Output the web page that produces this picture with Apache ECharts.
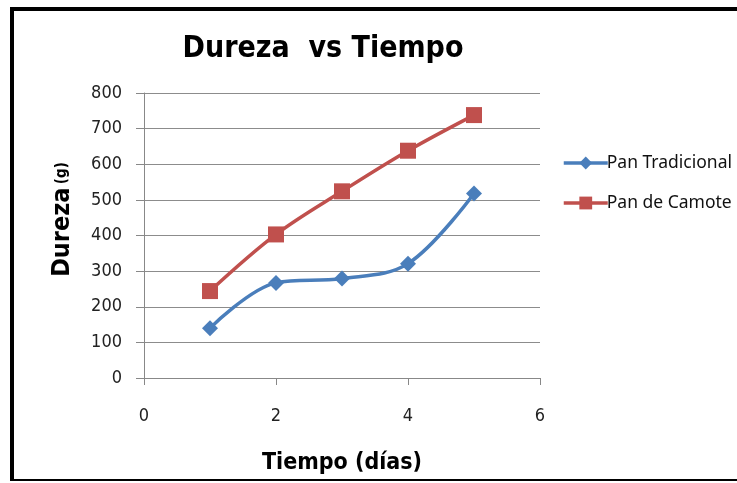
<!DOCTYPE html>
<html>
<head>
<meta charset="utf-8">
<script src="https://cdn.jsdelivr.net/npm/echarts@6/dist/echarts.min.js"></script>
<style>
  html, body { margin: 0; padding: 0; background: #fff; }
  #chart { width: 737px; height: 483px; }
</style>
</head>
<body>
<div id="chart"></div>
<script>
var dias = [1, 2, 3, 4, 5];
var panTradicional = [140, 267, 279, 321, 518];
var panCamote = [244, 403, 524, 638, 738];
var xTicks = [0, 2, 4, 6];
var yTicks = [0, 100, 200, 300, 400, 500, 600, 700, 800];

var narrow = "'DejaVu Sans Condensed', 'Liberation Sans', sans-serif";

function pairs(xs, ys) {
  return xs.map(function (x, i) { return [x, ys[i]]; });
}

var chart = echarts.init(document.getElementById("chart"));
chart.setOption({
  animation: false,
  title: {
    text: "Dureza  vs Tiempo",
    left: 318,
    textAlign: "center",
    top: 29,
    textStyle: {
      fontFamily: narrow,
      fontSize: 30,
      fontWeight: "bold",
      color: "#000"
    }
  },
  legend: {
    orient: "vertical",
    left: 557,
    top: 149,
    itemGap: 22,
    itemWidth: 44,
    itemHeight: 16,
    lineStyle: { width: 3.5 },
    textStyle: { fontFamily: "Noto Sans", fontSize: 17.5, color: "#111", padding: [0, 0, 0, -6] },
    data: ["Pan Tradicional", "Pan de Camote"]
  },
  grid: { left: 144, right: 197, top: 93, bottom: 105 },
  xAxis: {
    type: "value",
    min: 0,
    max: 6,
    interval: 2,
    name: "Tiempo (días)",
    nameLocation: "middle",
    nameGap: 74,
    nameTextStyle: {
      fontFamily: narrow,
      fontSize: 23,
      fontWeight: "bold",
      color: "#000"
    },
    axisLine: { lineStyle: { color: "#888", width: 1 } },
    axisTick: { show: true, length: 7, lineStyle: { color: "#888" } },
    axisLabel: {
      margin: 29,
      fontFamily: narrow,
      fontSize: 18,
      color: "#222",
      formatter: function (v) { return xTicks.indexOf(v) >= 0 ? String(v) : ""; }
    },
    splitLine: { show: false }
  },
  yAxis: {
    type: "value",
    min: 0,
    max: 800,
    interval: 100,
    name: "{a|Dureza} {b|(g)}",
    nameLocation: "middle",
    nameGap: 69,
    nameRotate: 90,
    nameTextStyle: {
      padding: [0, 0, 0, 32],
      rich: {
        a: { fontFamily: narrow, fontSize: 25, fontWeight: "bold", color: "#000" },
        b: { fontFamily: narrow, fontSize: 15, fontWeight: "bold", color: "#000" }
      }
    },
    axisLine: { show: true, lineStyle: { color: "#888", width: 1 } },
    axisTick: { show: true, length: 8, lineStyle: { color: "#888" } },
    axisLabel: {
      margin: 22,
      fontFamily: narrow,
      fontSize: 18,
      color: "#222",
      formatter: function (v) { return yTicks.indexOf(v) >= 0 ? String(v) : ""; }
    },
    splitLine: { show: true, lineStyle: { color: "#8c8c8c", width: 1 } }
  },
  series: [
    {
      name: "Pan Tradicional",
      type: "line",
      smooth: 0.35,
      data: pairs(dias, panTradicional),
      symbol: "diamond",
      symbolSize: 16,
      lineStyle: { color: "#4a7ebb", width: 3.5 },
      itemStyle: { color: "#4a7ebb" }
    },
    {
      name: "Pan de Camote",
      type: "line",
      smooth: 0.35,
      data: pairs(dias, panCamote),
      symbol: "rect",
      symbolSize: 16,
      lineStyle: { color: "#c0504d", width: 3.5 },
      itemStyle: { color: "#c0504d" }
    }
  ],
  graphic: [
    { type: "rect", shape: { x: 10, y: 7, width: 727, height: 4 }, style: { fill: "#000" } },
    { type: "rect", shape: { x: 10, y: 7, width: 4, height: 474 }, style: { fill: "#000" } },
    { type: "rect", shape: { x: 10, y: 479, width: 727, height: 2 }, style: { fill: "#000" } }
  ]
});
</script>
</body>
</html>
